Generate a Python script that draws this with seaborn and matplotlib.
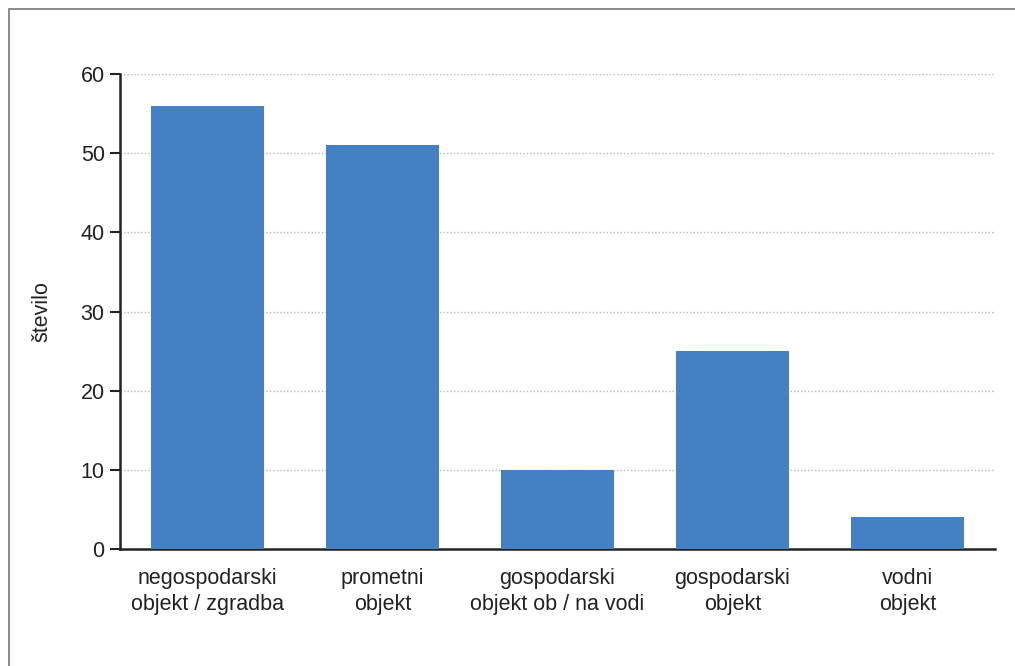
import matplotlib
matplotlib.use("Agg")
import matplotlib.pyplot as plt
import seaborn as sns
import pandas as pd
from matplotlib.patches import Rectangle

categories = ["negospodarski\nobjekt / zgradba", "prometni\nobjekt",
              "gospodarski\nobjekt ob / na vodi", "gospodarski\nobjekt", "vodni\nobjekt"]
values = [56, 51, 10, 25, 4]
y_ticks = [0, 10, 20, 30, 40, 50, 60]
y_label = "število"

sns.set_style("white")
plt.rcParams['font.family'] = ['Liberation Sans', 'DejaVu Sans']

df = pd.DataFrame({"cat": categories, "val": values})

fig = plt.figure(figsize=(10.15, 6.66), dpi=100)
ax = fig.add_axes([120/1015, 1-549/666, 875/1015, 475/666])

sns.barplot(data=df, x="cat", y="val", color="#4480C4", width=0.65,
            saturation=1, ax=ax, zorder=3, linewidth=0, edgecolor="none")

ax.set_xlim(-0.5, 4.5)
ax.set_ylim(0, 60)
ax.set_yticks(y_ticks)
ax.yaxis.grid(True, linestyle=(0, (1, 1.5)), color="#b8b8b8", linewidth=1, zorder=0)
ax.xaxis.grid(False)

for s in ["top", "right"]:
    ax.spines[s].set_visible(False)
for s in ["left", "bottom"]:
    ax.spines[s].set_color("#222222")
    ax.spines[s].set_linewidth(1.8)

ax.tick_params(axis="y", length=7, width=1.5, color="#222222", labelsize=15.5,
               labelcolor="#222222", pad=4, left=True)
ax.tick_params(axis="x", length=0, labelsize=15.5, labelcolor="#222222", pad=14)
for lab in ax.get_xticklabels():
    lab.set_linespacing(1.3)

ax.set_xlabel("")
ax.set_ylabel(y_label, fontsize=15.5, color="#222222", labelpad=20)

fig.patches.append(Rectangle((8.5/1015, -0.1), 1.2, 1 - 8.5/666 + 0.1,
                             transform=fig.transFigure, fill=False,
                             edgecolor="#777777", linewidth=1.2))

fig.savefig("out.png", dpi=100)
